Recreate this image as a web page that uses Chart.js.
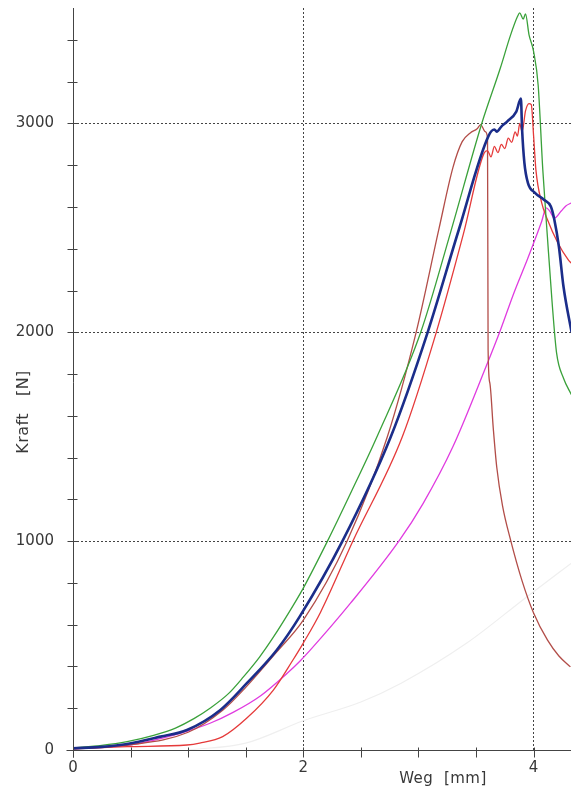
<!DOCTYPE html>
<html>
<head>
<meta charset="utf-8">
<script src="https://cdn.jsdelivr.net/npm/chart.js@4"></script>
<style>
  html, body { margin: 0; padding: 0; background: #fff; }
  #wrap { width: 571px; height: 790px; position: relative; }
</style>
</head>
<body>
<div id="wrap"><canvas id="kraftWegChart"></canvas></div>
<script>
const gruenWeg   = [0, 0.25, 0.47, 0.7, 0.89, 1.05, 1.19, 1.35, 1.48, 1.62, 1.74, 1.91, 2.0, 2.21, 2.42, 2.64, 3.02, 3.28, 3.55, 3.71, 3.80, 3.86, 3.88, 3.91, 3.93, 3.96, 4.00, 4.04, 4.08, 4.12, 4.16, 4.20, 4.26, 4.33];
const gruenKraft = [10, 22, 40, 70, 105, 150, 200, 270, 350, 445, 540, 690, 775, 1000, 1240, 1500, 2000, 2480, 3000, 3263, 3423, 3512, 3530, 3500, 3525, 3426, 3345, 3182, 2779, 2458, 2150, 1900, 1780, 1700];

const blauWeg   = [0, 0.25, 0.47, 0.76, 0.99, 1.28, 1.51, 1.77, 1.97, 2.34, 2.76, 3.08, 3.35, 3.61, 3.66, 3.68, 3.72, 3.77, 3.85, 3.89, 3.90, 3.92, 3.95, 4.01, 4.09, 4.15, 4.18, 4.22, 4.26, 4.33];
const blauKraft = [8, 15, 29, 64, 96, 192, 320, 479, 640, 1000, 1500, 2000, 2490, 2942, 2971, 2961, 2985, 3009, 3057, 3119, 2975, 2813, 2717, 2669, 2635, 2602, 2540, 2410, 2218, 2000];

const rotWeg   = [0, 0.47, 0.99, 1.1, 1.30, 1.51, 1.74, 1.91, 2.0, 2.15, 2.43, 2.86, 3.155, 3.39, 3.57, 3.60, 3.63, 3.66, 3.69, 3.72, 3.75, 3.78, 3.81, 3.84, 3.86, 3.88, 3.90, 3.93, 3.96, 3.98, 4.00, 4.02, 4.07, 4.12, 4.21, 4.30, 4.33];
const rotKraft = [5, 16, 24, 33, 64, 153, 287, 431, 512, 660, 1000, 1500, 2000, 2470, 2858, 2870, 2840, 2890, 2860, 2900, 2880, 2930, 2910, 2960, 2940, 3000, 2960, 3060, 3095, 3090, 2942, 2779, 2621, 2540, 2429, 2348, 2330];

const braunWeg   = [0, 0.5, 1.0, 1.3, 1.5, 1.77, 2.0, 2.38, 2.73, 2.98, 3.18, 3.30, 3.38, 3.45, 3.51, 3.54, 3.58, 3.60, 3.605, 3.62, 3.65, 3.68, 3.73, 3.80, 3.90, 4.00, 4.12, 4.22, 4.32];
const braunKraft = [8, 25, 85, 190, 300, 470, 622, 1000, 1500, 2000, 2500, 2790, 2913, 2955, 2975, 2995, 2961, 2930, 1916, 1758, 1540, 1355, 1170, 1006, 810, 656, 527, 450, 398];

const magentaWeg   = [0, 0.5, 0.93, 1.19, 1.39, 1.63, 1.86, 1.97, 2.06, 2.41, 2.83, 3.04, 3.30, 3.59, 3.71, 3.83, 3.95, 4.07, 4.11, 4.14, 4.18, 4.24, 4.28, 4.33];
const magentaKraft = [5, 25, 80, 128, 180, 260, 367, 425, 478, 703, 1000, 1180, 1453, 1840, 2008, 2190, 2355, 2531, 2596, 2581, 2547, 2581, 2605, 2620];

const hellWeg   = [1.0, 1.5, 2.0, 2.5, 2.85, 3.42, 3.94, 4.33];
const hellKraft = [0, 33, 140, 230, 320, 512, 733, 895];

// Achsen
const wegMax = 4.325;
const kraftMax = 3553;
const wegSchritt = 0.5;
const kraftSchritt = 200;
const wegBeschriftet = [0, 2, 4];
const kraftBeschriftet = [0, 1000, 2000, 3000];

function punkte(xs, ys) {
    return xs.map((x, i) => ({ x: x, y: ys[i] }));
}

function kurve(label, xs, ys, farbe, breite) {
    return {
        label: label,
        data: punkte(xs, ys),
        borderColor: farbe,
        borderWidth: breite,
        pointRadius: 0,
        fill: false,
        cubicInterpolationMode: 'monotone'
    };
}

const textFarbe = '#383838';
const linienFarbe = '#444';

// Achsenlinien, Teilstriche und Achsentitel
const achsenPlugin = {
    id: 'achsen',
    afterDraw(chart) {
        const { ctx, scales: { x, y } } = chart;
        const x0 = Math.round(x.getPixelForValue(0)) + 0.5;
        const y0 = Math.round(y.getPixelForValue(0)) + 0.5;
        ctx.save();
        ctx.strokeStyle = linienFarbe;
        ctx.lineWidth = 1;
        ctx.beginPath();
        // Achsen
        ctx.moveTo(x0, chart.chartArea.top);
        ctx.lineTo(x0, y0 + 7);
        ctx.moveTo(x0 - 7, y0);
        ctx.lineTo(chart.chartArea.right, y0);
        // Teilstriche
        x.ticks.forEach(t => {
            const px = Math.round(x.getPixelForValue(t.value)) + 0.5;
            ctx.moveTo(px, y0 - 3);
            ctx.lineTo(px, y0 + 7);
        });
        y.ticks.forEach(t => {
            const py = Math.round(y.getPixelForValue(t.value)) + 0.5;
            ctx.moveTo(x0 - 6, py);
            ctx.lineTo(x0 + 4, py);
        });
        ctx.stroke();

        ctx.fillStyle = textFarbe;
        ctx.textAlign = 'center';
        ctx.textBaseline = 'middle';
        ctx.font = '15px "DejaVu Sans"';
        if ('letterSpacing' in ctx) ctx.letterSpacing = '0.5px';
        ctx.fillText('Weg  [mm]', 443, 779);
        ctx.translate(24, 412);
        ctx.rotate(-Math.PI / 2);
        ctx.font = '16px "DejaVu Sans"';
        ctx.fillText('Kraft   [N]', 0, 0);
        ctx.restore();
    }
};

const ctx = document.getElementById('kraftWegChart').getContext('2d');
const kraftWegChart = new Chart(ctx, {
    type: 'line',
    data: {
        datasets: [
            kurve('Probe 1', blauWeg, blauKraft, '#1b2d8a', 2.6),
            kurve('Probe 2', gruenWeg, gruenKraft, '#3aa13a', 1.3),
            kurve('Probe 3', rotWeg, rotKraft, '#e53a3a', 1.3),
            kurve('Probe 4', braunWeg, braunKraft, '#b24d48', 1.3),
            kurve('Probe 5', magentaWeg, magentaKraft, '#e03be0', 1.3),
            kurve('Probe 6', hellWeg, hellKraft, '#efefef', 1.2)
        ]
    },
    options: {
        responsive: true,
        maintainAspectRatio: false,
        animation: false,
        layout: { padding: { top: 8, right: 0, left: 0, bottom: 0 } },
        plugins: {
            legend: { display: false },
            tooltip: { enabled: false }
        },
        scales: {
            x: {
                type: 'linear',
                min: 0,
                max: wegMax,
                afterFit: s => { s.height = 40; s.paddingLeft = 0; s.paddingRight = 0; },
                border: { display: false, dash: [2, 2] },
                grid: {
                    drawTicks: false,
                    lineWidth: 1,
                    color: c => (c.tick && c.tick.value > 0 && wegBeschriftet.includes(c.tick.value)) ? linienFarbe : 'rgba(0,0,0,0)'
                },
                ticks: {
                    stepSize: wegSchritt,
                    includeBounds: false,
                    autoSkip: false,
                    maxRotation: 0,
                    padding: 9,
                    color: textFarbe,
                    font: { family: 'DejaVu Sans', size: 15 },
                    callback: v => wegBeschriftet.includes(v) ? String(v) : ''
                }
            },
            y: {
                type: 'linear',
                min: 0,
                max: kraftMax,
                afterFit: s => { s.width = 73; s.paddingTop = 0; s.paddingBottom = 0; },
                border: { display: false, dash: [2, 2] },
                grid: {
                    drawTicks: false,
                    lineWidth: 1,
                    color: c => (c.tick && c.tick.value > 0 && kraftBeschriftet.includes(c.tick.value)) ? linienFarbe : 'rgba(0,0,0,0)'
                },
                ticks: {
                    stepSize: kraftSchritt,
                    includeBounds: false,
                    autoSkip: false,
                    padding: 19,
                    color: textFarbe,
                    font: { family: 'DejaVu Sans', size: 15 },
                    callback: v => kraftBeschriftet.includes(v) ? String(v) : ''
                }
            }
        }
    },
    plugins: [achsenPlugin]
});
</script>
</body>
</html>
